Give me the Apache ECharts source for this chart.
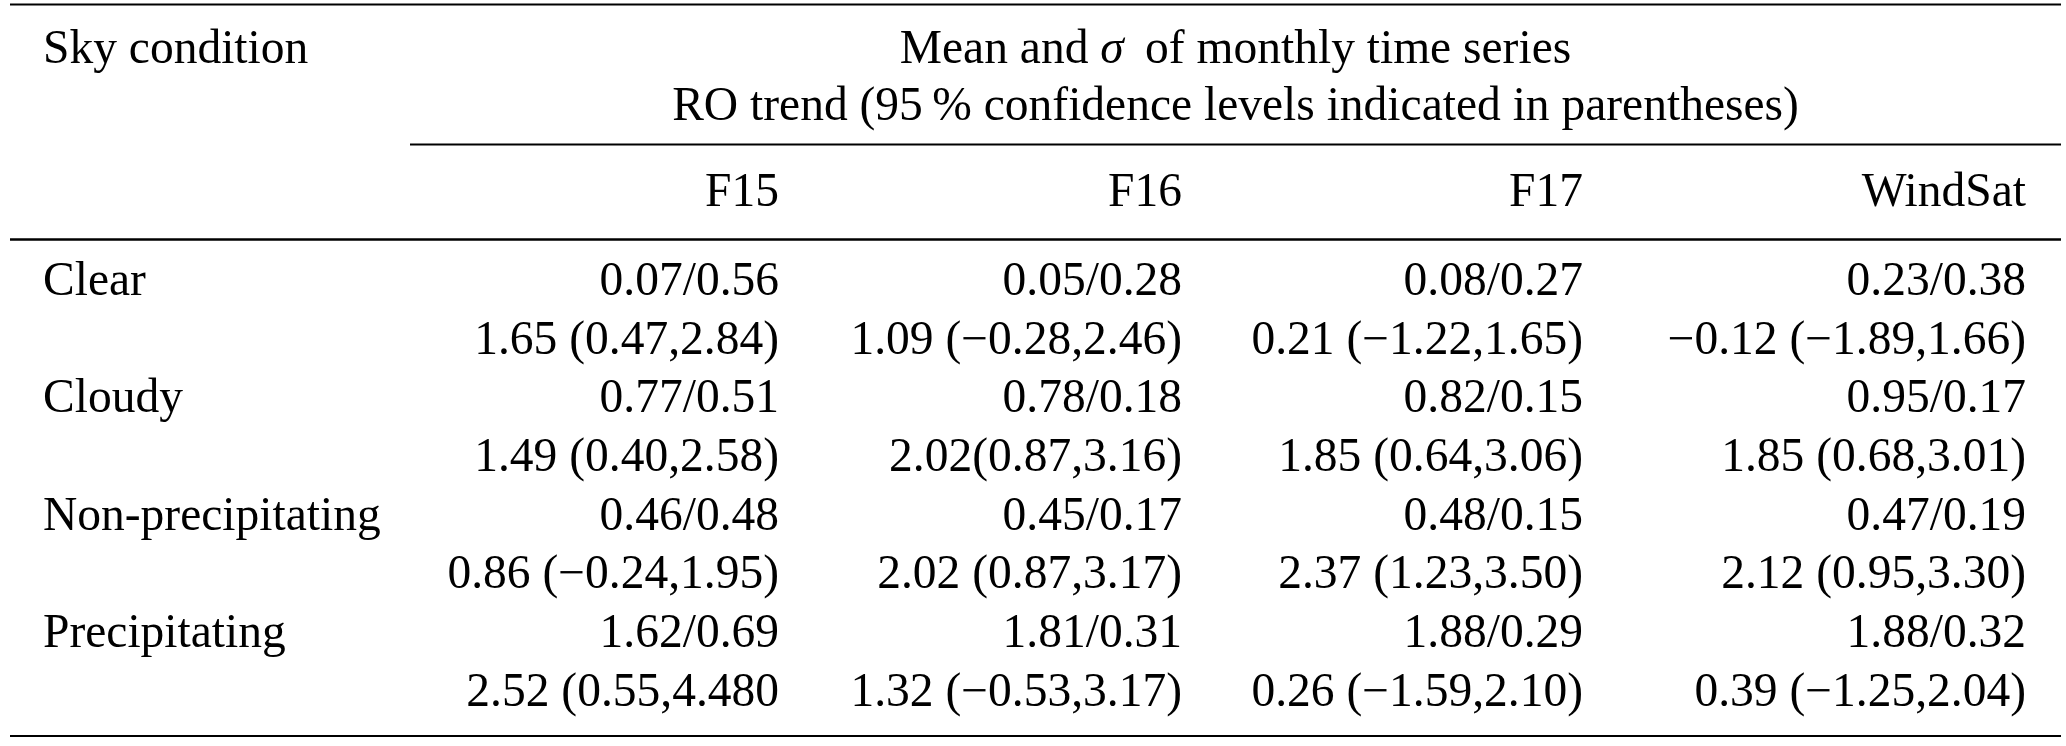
<!DOCTYPE html>
<html><head><meta charset="utf-8">
<script src="https://cdn.jsdelivr.net/npm/echarts@6/dist/echarts.min.js"></script>
<style>html,body{margin:0;padding:0;background:#fff}#c{width:2066px;height:746px}</style>
</head><body><div id="c"></div>
<script>
// ---------------- data ----------------
const stubHeader = 'Sky condition';
const spanHeader1 = ['Mean and ', 'σ', '\u2009 of monthly time series'];
const spanHeader2 = 'RO trend (95\u2009% confidence levels indicated in parentheses)';
const sensors = ['F15', 'F16', 'F17', 'WindSat'];
const skyConditions = ['Clear', 'Cloudy', 'Non-precipitating', 'Precipitating'];
// rows: sky condition, columns: sensor
const meanValues = [
  [0.07, 0.05, 0.08, 0.23],
  [0.77, 0.78, 0.82, 0.95],
  [0.46, 0.45, 0.48, 0.47],
  [1.62, 1.81, 1.88, 1.88]
];
const sigmaValues = [
  [0.56, 0.28, 0.27, 0.38],
  [0.51, 0.18, 0.15, 0.17],
  [0.48, 0.17, 0.15, 0.19],
  [0.69, 0.31, 0.29, 0.32]
];
// printed exactly as in the source table (including its typographic quirks)
const trendText = [
  ['1.65 (0.47,2.84)', '1.09 (\u22120.28,2.46)', '0.21 (\u22121.22,1.65)', '\u22120.12 (\u22121.89,1.66)'],
  ['1.49 (0.40,2.58)', '2.02(0.87,3.16)', '1.85 (0.64,3.06)', '1.85 (0.68,3.01)'],
  ['0.86 (\u22120.24,1.95)', '2.02 (0.87,3.17)', '2.37 (1.23,3.50)', '2.12 (0.95,3.30)'],
  ['2.52 (0.55,4.480', '1.32 (\u22120.53,3.17)', '0.26 (\u22121.59,2.10)', '0.39 (\u22121.25,2.04)']
];

// ---------------- layout (page units) ----------------
const W = 2066, H = 746;
const FONT = '"Liberation Serif", "Times New Roman", serif';
const FS = 47.5;
const stubX = 43;
const colRight = [779, 1182, 1583, 2026];
const spanLeft = 410, tableLeft = 10, tableRight = 2061;
const headY1 = 51, headY2 = 108, colHeadY = 193.5;
const rowY0 = 282.5, lineStep = 58.7;
const rules = [ // [x1, x2, y, thickness]
  [tableLeft, tableRight, 4.5, 2.2],
  [spanLeft, tableRight, 144.5, 2.2],
  [tableLeft, tableRight, 239.5, 2.6],
  [tableLeft, tableRight, 736, 2.2]
];

// ---------------- build cells ----------------
const cells = [];
cells.push({x: stubX, y: headY1, text: stubHeader, align: 'left'});
cells.push({x: (spanLeft + tableRight) / 2, y: headY1, rich: spanHeader1, align: 'center'});
cells.push({x: (spanLeft + tableRight) / 2, y: headY2, text: spanHeader2, align: 'center'});
sensors.forEach((s, j) => cells.push({x: colRight[j], y: colHeadY, text: s, align: 'right'}));
skyConditions.forEach((name, i) => {
  const y1 = rowY0 + lineStep * (2 * i);
  const y2 = rowY0 + lineStep * (2 * i + 1);
  cells.push({x: stubX, y: y1, text: name, align: 'left'});
  sensors.forEach((s, j) => {
    cells.push({x: colRight[j], y: y1, text: meanValues[i][j].toFixed(2) + '/' + sigmaValues[i][j].toFixed(2), align: 'right'});
    cells.push({x: colRight[j], y: y2, text: trendText[i][j], align: 'right'});
  });
});

const base = {fontFamily: FONT, fontSize: FS, fill: '#000'};

const chart = echarts.init(document.getElementById('c'), null, {renderer: 'canvas'});
chart.setOption({
  animation: false,
  backgroundColor: '#fff',
  grid: {left: 0, right: 0, top: 0, bottom: 0},
  xAxis: {type: 'value', min: 0, max: W, show: false},
  yAxis: {type: 'value', min: 0, max: H, inverse: true, show: false},
  series: [
    {
      type: 'custom',
      name: 'rules',
      data: rules.map(r => [r[0], r[1], r[2], r[3]]),
      renderItem: (params, api) => {
        const p1 = api.coord([api.value(0), api.value(2)]);
        const p2 = api.coord([api.value(1), api.value(2)]);
        const t = api.value(3);
        return {type: 'rect', shape: {x: p1[0], y: p1[1] - t / 2, width: p2[0] - p1[0], height: t},
          style: {fill: '#000'}};
      }
    },
    {
      type: 'custom',
      name: 'cells',
      data: cells.map(c => [c.x, c.y]),
      renderItem: (params, api) => {
        const c = cells[params.dataIndex];
        const p = api.coord([api.value(0), api.value(1)]);
        let style;
        if (c.rich) {
          style = Object.assign({}, base, {
            text: '{n|' + c.rich[0] + '}{s|' + c.rich[1] + '}{n|' + c.rich[2] + '}',
            rich: {
              n: {fontFamily: FONT, fontSize: FS, fill: '#000'},
              s: {fontFamily: FONT, fontSize: FS, fill: '#000', fontStyle: 'italic'}
            },
            align: c.align, verticalAlign: 'middle'
          });
        } else {
          style = Object.assign({}, base, {text: c.text, align: c.align, verticalAlign: 'middle'});
        }
        return {type: 'text', x: p[0], y: p[1], style: style};
      }
    }
  ]
});
</script>
</body></html>
